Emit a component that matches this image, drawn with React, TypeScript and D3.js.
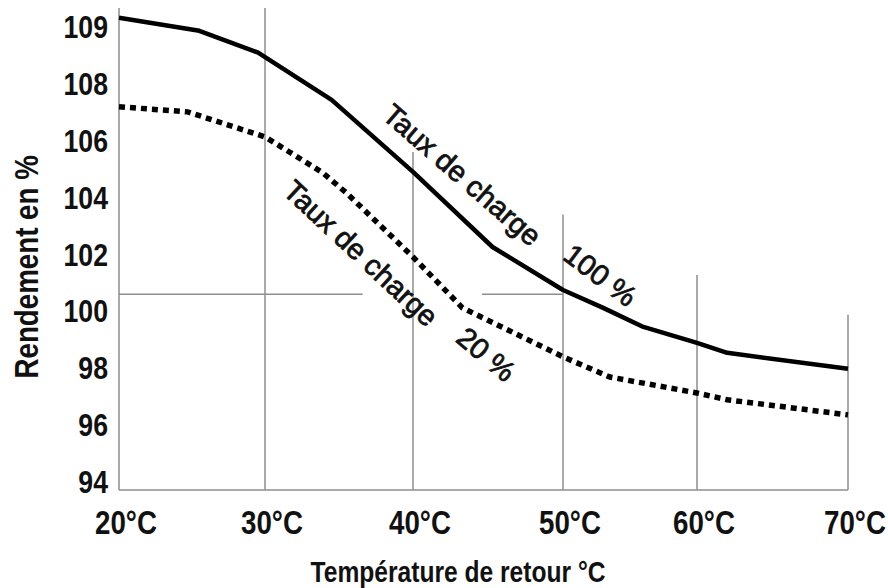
import { line, scaleLinear, select } from 'd3';
import { useEffect, useRef } from 'react';

// x axis: return temperature
const temps = [20, 30, 40, 50, 60, 70];
const tempLabels = ['20°C', '30°C', '40°C', '50°C', '60°C', '70°C'];
// upper end of each vertical grid line (in efficiency units)
const gridTop = [109.33, 109.33, 105.6, 103.4, 101.28, 99.88];

// y axis: efficiency (labels are not evenly spaced in value)
const effTicks = [94, 96, 98, 100, 102, 104, 106, 108, 109];

// horizontal reference line, drawn in two pieces
const refLevel = 100.6;
const refFrom = [20, 44.6];
const refTo = [36.6, 50];

// Taux de charge 100 %
const load100Temp = [20, 25.5, 29.5, 34.5, 40, 45.3, 50, 53, 56, 60, 62, 70];
const load100Eff = [109.16, 108.93, 108.55, 107.43, 104.9, 102.26, 100.75, 100.12, 99.45, 98.89, 98.54, 97.98];

// Taux de charge 20 %
const load20Temp = [20, 24.7, 30, 31.4, 33.9, 35.5, 40, 43.3, 50, 53.5, 60, 62, 70];
const load20Eff = [107.19, 107.01, 106.13, 105.68, 104.87, 104.16, 101.91, 100.12, 98.4, 97.69, 97.13, 96.89, 96.36];

// curve annotations
const noteText = ['Taux de charge', '100 %', 'Taux de charge', '20 %'];
const noteTemp = [43.3, 52.8, 36.5, 44.9];
const noteEff = [104.8, 101.28, 102.05, 98.5];
const noteAngle = [41, 37, 43, 40];

const W = 888;
const H = 588;
const font = '"Liberation Sans", Arial, Helvetica, sans-serif';
const grey = '#8e8e8e';

export default function App() {
  const svgRef = useRef<SVGSVGElement>(null);

  useEffect(() => {
    if (!svgRef.current) return;
    const svg = select(svgRef.current);

    const x = scaleLinear().domain(temps).range([119, 265, 413, 563, 697, 848]);
    const step = 56.9;
    const y = scaleLinear()
      .domain(effTicks)
      .range(effTicks.map((_, i) => 482 - i * step));
    const baseY = y(94) + 8;

    const root = svg.append('g');

    // vertical grid lines (first one is the y axis)
    root
      .selectAll('line.grid')
      .data(temps)
      .join('line')
      .attr('class', 'grid')
      .attr('x1', (d) => x(d))
      .attr('x2', (d) => x(d))
      .attr('y1', (_, i) => y(gridTop[i]))
      .attr('y2', baseY)
      .attr('stroke', grey)
      .attr('stroke-width', 1.5);

    // x axis line
    root
      .append('line')
      .attr('x1', x(20))
      .attr('x2', x(70))
      .attr('y1', baseY)
      .attr('y2', baseY)
      .attr('stroke', grey)
      .attr('stroke-width', 1.5);

    // reference line
    root
      .selectAll('line.ref')
      .data(refFrom)
      .join('line')
      .attr('class', 'ref')
      .attr('x1', (d) => x(d))
      .attr('x2', (_, i) => x(refTo[i]))
      .attr('y1', y(refLevel))
      .attr('y2', y(refLevel))
      .attr('stroke', grey)
      .attr('stroke-width', 1.5);

    const curve = line<number>()
      .x((d) => x(d))
      .y((_, i, arr) => y(arr === load100Temp ? load100Eff[i] : load20Eff[i]));

    root
      .append('path')
      .datum(load100Temp)
      .attr('d', curve)
      .attr('fill', 'none')
      .attr('stroke', '#000')
      .attr('stroke-width', 4.5)
      .attr('stroke-linejoin', 'round');

    root
      .append('path')
      .datum(load20Temp)
      .attr('d', curve)
      .attr('fill', 'none')
      .attr('stroke', '#000')
      .attr('stroke-width', 5.5)
      .attr('stroke-dasharray', '6 5');

    // y tick labels
    root
      .selectAll('g.ytick')
      .data(effTicks)
      .join('g')
      .attr('class', 'ytick')
      .attr('transform', (d) => `translate(${x(20) - 11},${y(d)}) scale(0.86,1)`)
      .append('text')
      .attr('text-anchor', 'end')
      .attr('dy', '0.36em')
      .attr('font-family', font)
      .attr('font-weight', 'bold')
      .attr('font-size', 31)
      .attr('fill', '#111')
      .text((d) => String(d));

    // x tick labels
    root
      .selectAll('g.xtick')
      .data(temps)
      .join('g')
      .attr('class', 'xtick')
      .attr('transform', (d) => `translate(${x(d) + 7},${baseY + 44}) scale(0.84,1)`)
      .append('text')
      .attr('text-anchor', 'middle')
      .attr('font-family', font)
      .attr('font-weight', 'bold')
      .attr('font-size', 33)
      .attr('fill', '#111')
      .text((_, i) => tempLabels[i]);

    // axis titles
    root
      .append('g')
      .attr('transform', `translate(${W / 2 + 14},${H - 6}) scale(0.82,1)`)
      .append('text')
      .attr('text-anchor', 'middle')
      .attr('font-family', font)
      .attr('font-weight', 'bold')
      .attr('font-size', 30)
      .attr('fill', '#111')
      .text('Température de retour °C');

    root
      .append('g')
      .attr('transform', `translate(38,${(y(100) + y(102)) / 2 - 16}) rotate(-90) scale(0.84,1)`)
      .append('text')
      .attr('text-anchor', 'middle')
      .attr('font-family', font)
      .attr('font-weight', 'bold')
      .attr('font-size', 33)
      .attr('fill', '#111')
      .text('Rendement en %');

    // curve annotations
    root
      .selectAll('text.note')
      .data(noteText)
      .join('text')
      .attr('class', 'note')
      .attr('transform', (_, i) => `translate(${x(noteTemp[i])},${y(noteEff[i])}) rotate(${noteAngle[i]})`)
      .attr('text-anchor', 'middle')
      .attr('dy', '0.36em')
      .attr('font-family', font)
      .attr('font-size', 29)
      .attr('fill', '#111')
      .attr('stroke', '#111')
      .attr('stroke-width', 0.8)
      .text((d) => d);

    return () => {
      svg.selectAll('*').remove();
    };
  }, []);

  return (
    <svg
      ref={svgRef}
      width={W}
      height={H}
      style={{ position: 'absolute', left: 0, top: 0, background: '#fff' }}
    />
  );
}
